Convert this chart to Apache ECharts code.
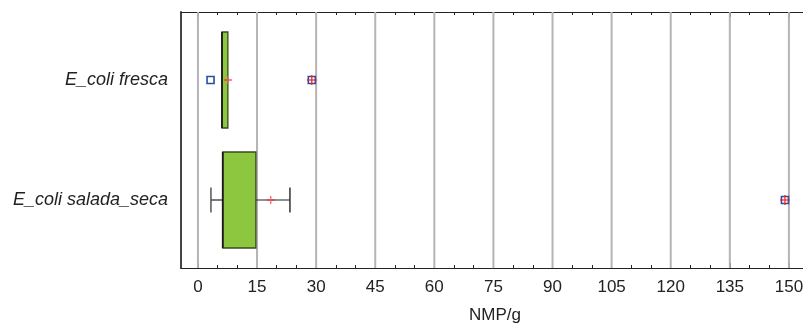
<!DOCTYPE html>
<html><head><meta charset="utf-8">
<script src="https://cdn.jsdelivr.net/npm/echarts@6/dist/echarts.min.js"></script>
<style>html,body{margin:0;padding:0;background:#fff}#c{width:803px;height:325px}</style>
</head><body><div id="c"></div>
<script>
const categories = ['E_coli fresca', 'E_coli salada_seca'];
const whiskerLow = [6.1, 3.3];
const q1 = [6.1, 6.3];
const median = [6.1, 6.3];
const q3 = [7.6, 14.7];
const whiskerHigh = [7.6, 23.35];
const means = [7.6, 18.5];
// [category index, value, far outside?]
const outliers = [[0, 3.2, 0], [0, 28.9, 1], [1, 149.0, 1]];
const xTickValues = [0, 15, 30, 45, 60, 75, 90, 105, 120, 135, 150];
const xMinorValues = [5,10,20,25,35,40,50,55,65,70,80,85,95,100,110,115,125,130,140,145];

const boxData = categories.map((c, i) => [i, whiskerLow[i], q1[i], median[i], q3[i], whiskerHigh[i], means[i]]);

const chart = echarts.init(document.getElementById('c'), null, {renderer: 'canvas'});
const XMIN = -4.3, XMAX = 155.1;
const font = 'Liberation Sans, Arial, sans-serif';

function baseX(extra) {
  return Object.assign({
    type: 'value', min: XMIN, max: XMAX,
    axisLine: {show: false, onZero: false}, axisTick: {show: false}, axisLabel: {show: false}, splitLine: {show: false}
  }, extra);
}

chart.setOption({
  animation: false,
  grid: {left: 181, top: 12, width: 628, height: 256, containLabel: false, outerBoundsMode: 'none'},
  xAxis: [
    baseX({position: 'bottom',
      axisLine: {show: true, onZero: false, lineStyle: {color: '#222', width: 1}},
      axisTick: {show: true, inside: true, length: 5, customValues: xTickValues, lineStyle: {color: '#222'}},
      axisLabel: {show: true, customValues: xTickValues, margin: 11, fontSize: 17, color: '#222', fontFamily: font},
      name: 'NMP/g', nameLocation: 'middle', nameGap: 39,
      nameTextStyle: {fontSize: 17, color: '#222', fontFamily: font}
    }),
    baseX({position: 'top',
      axisLine: {show: true, onZero: false, lineStyle: {color: '#222', width: 1}},
      axisTick: {show: true, inside: true, length: 5, customValues: xTickValues, lineStyle: {color: '#222'}}
    }),
    baseX({position: 'bottom',
      axisTick: {show: true, inside: true, length: 3, customValues: xMinorValues, lineStyle: {color: '#222'}}
    }),
    baseX({position: 'top',
      axisTick: {show: true, inside: true, length: 3, customValues: xMinorValues, lineStyle: {color: '#222'}}
    })
  ],
  yAxis: {
    type: 'value', inverse: true, min: -0.5667, max: 1.5667,
    axisLine: {show: true, onZero: false, lineStyle: {color: '#444', width: 2}},
    axisTick: {show: false},
    splitLine: {show: false},
    axisLabel: {
      customValues: [0, 1], margin: 13, fontSize: 18, fontStyle: 'italic', color: '#222', fontFamily: font,
      formatter: v => categories[Math.round(v)]
    }
  },
  series: [
    {
      // vertical grid lines at major ticks
      type: 'custom', xAxisIndex: 0, silent: true, z: 1,
      data: xTickValues.map(v => [v]),
      renderItem: function (params, api) {
        const x = api.coord([api.value(0), 0])[0];
        const cs = params.coordSys;
        return {type: 'line', shape: {x1: x, y1: cs.y, x2: x, y2: cs.y + cs.height},
          style: {stroke: '#b4b4b4', lineWidth: 2}};
      }
    },
    {
      type: 'custom', xAxisIndex: 0, z: 3,
      data: boxData,
      renderItem: function (params, api) {
        const yi = api.value(0);
        const pLo = api.coord([api.value(1), yi]);
        const pQ1 = api.coord([api.value(2), yi]);
        const pMed = api.coord([api.value(3), yi]);
        const pQ3 = api.coord([api.value(4), yi]);
        const pHi = api.coord([api.value(5), yi]);
        const pMean = api.coord([api.value(6), yi]);
        const half = api.size([0, 0.4])[1];
        const cap = api.size([0, 0.104])[1];
        const cy = pQ1[1];
        const ch = [];
        if (pLo[0] < pQ1[0] - 0.5) {
          ch.push({type: 'line', shape: {x1: pLo[0], y1: cy, x2: pQ1[0], y2: cy}, style: {stroke: '#222', lineWidth: 1.2}});
          ch.push({type: 'line', shape: {x1: pLo[0], y1: cy - cap, x2: pLo[0], y2: cy + cap}, style: {stroke: '#555', lineWidth: 1.5}});
        }
        if (pHi[0] > pQ3[0] + 0.5) {
          ch.push({type: 'line', shape: {x1: pQ3[0], y1: cy, x2: pHi[0], y2: cy}, style: {stroke: '#222', lineWidth: 1.2}});
          ch.push({type: 'line', shape: {x1: pHi[0], y1: cy - cap, x2: pHi[0], y2: cy + cap}, style: {stroke: '#333', lineWidth: 1.5}});
        }
        ch.push({type: 'rect', shape: {x: pQ1[0], y: cy - half, width: pQ3[0] - pQ1[0], height: 2 * half},
          style: {fill: '#8dc63f', stroke: '#3a4a22', lineWidth: 1.3}});
        ch.push({type: 'line', shape: {x1: pMed[0], y1: cy - half, x2: pMed[0], y2: cy + half},
          style: {stroke: '#1a1a1a', lineWidth: 1.8}});
        ch.push({type: 'line', shape: {x1: pMean[0] - 4, y1: cy, x2: pMean[0] + 4, y2: cy}, style: {stroke: '#f03030', lineWidth: 1.2}});
        ch.push({type: 'line', shape: {x1: pMean[0], y1: cy - 4, x2: pMean[0], y2: cy + 4}, style: {stroke: '#f06060', lineWidth: 1.2}});
        return {type: 'group', children: ch};
      }
    },
    {
      type: 'custom', xAxisIndex: 0, z: 4,
      data: outliers,
      renderItem: function (params, api) {
        const p = api.coord([api.value(1), api.value(0)]);
        const ch = [{type: 'rect', shape: {x: p[0] - 3.5, y: p[1] - 3.5, width: 7, height: 7},
          style: {fill: 'none', stroke: '#2b4ea2', lineWidth: 1.6}}];
        if (api.value(2)) {
          ch.push({type: 'line', shape: {x1: p[0] - 5, y1: p[1], x2: p[0] + 5, y2: p[1]}, style: {stroke: '#ff1a1a', lineWidth: 1.2}});
          ch.push({type: 'line', shape: {x1: p[0], y1: p[1] - 5, x2: p[0], y2: p[1] + 5}, style: {stroke: '#ff1a1a', lineWidth: 1.2}});
        }
        return {type: 'group', children: ch};
      }
    }
  ]
});
</script></body></html>
